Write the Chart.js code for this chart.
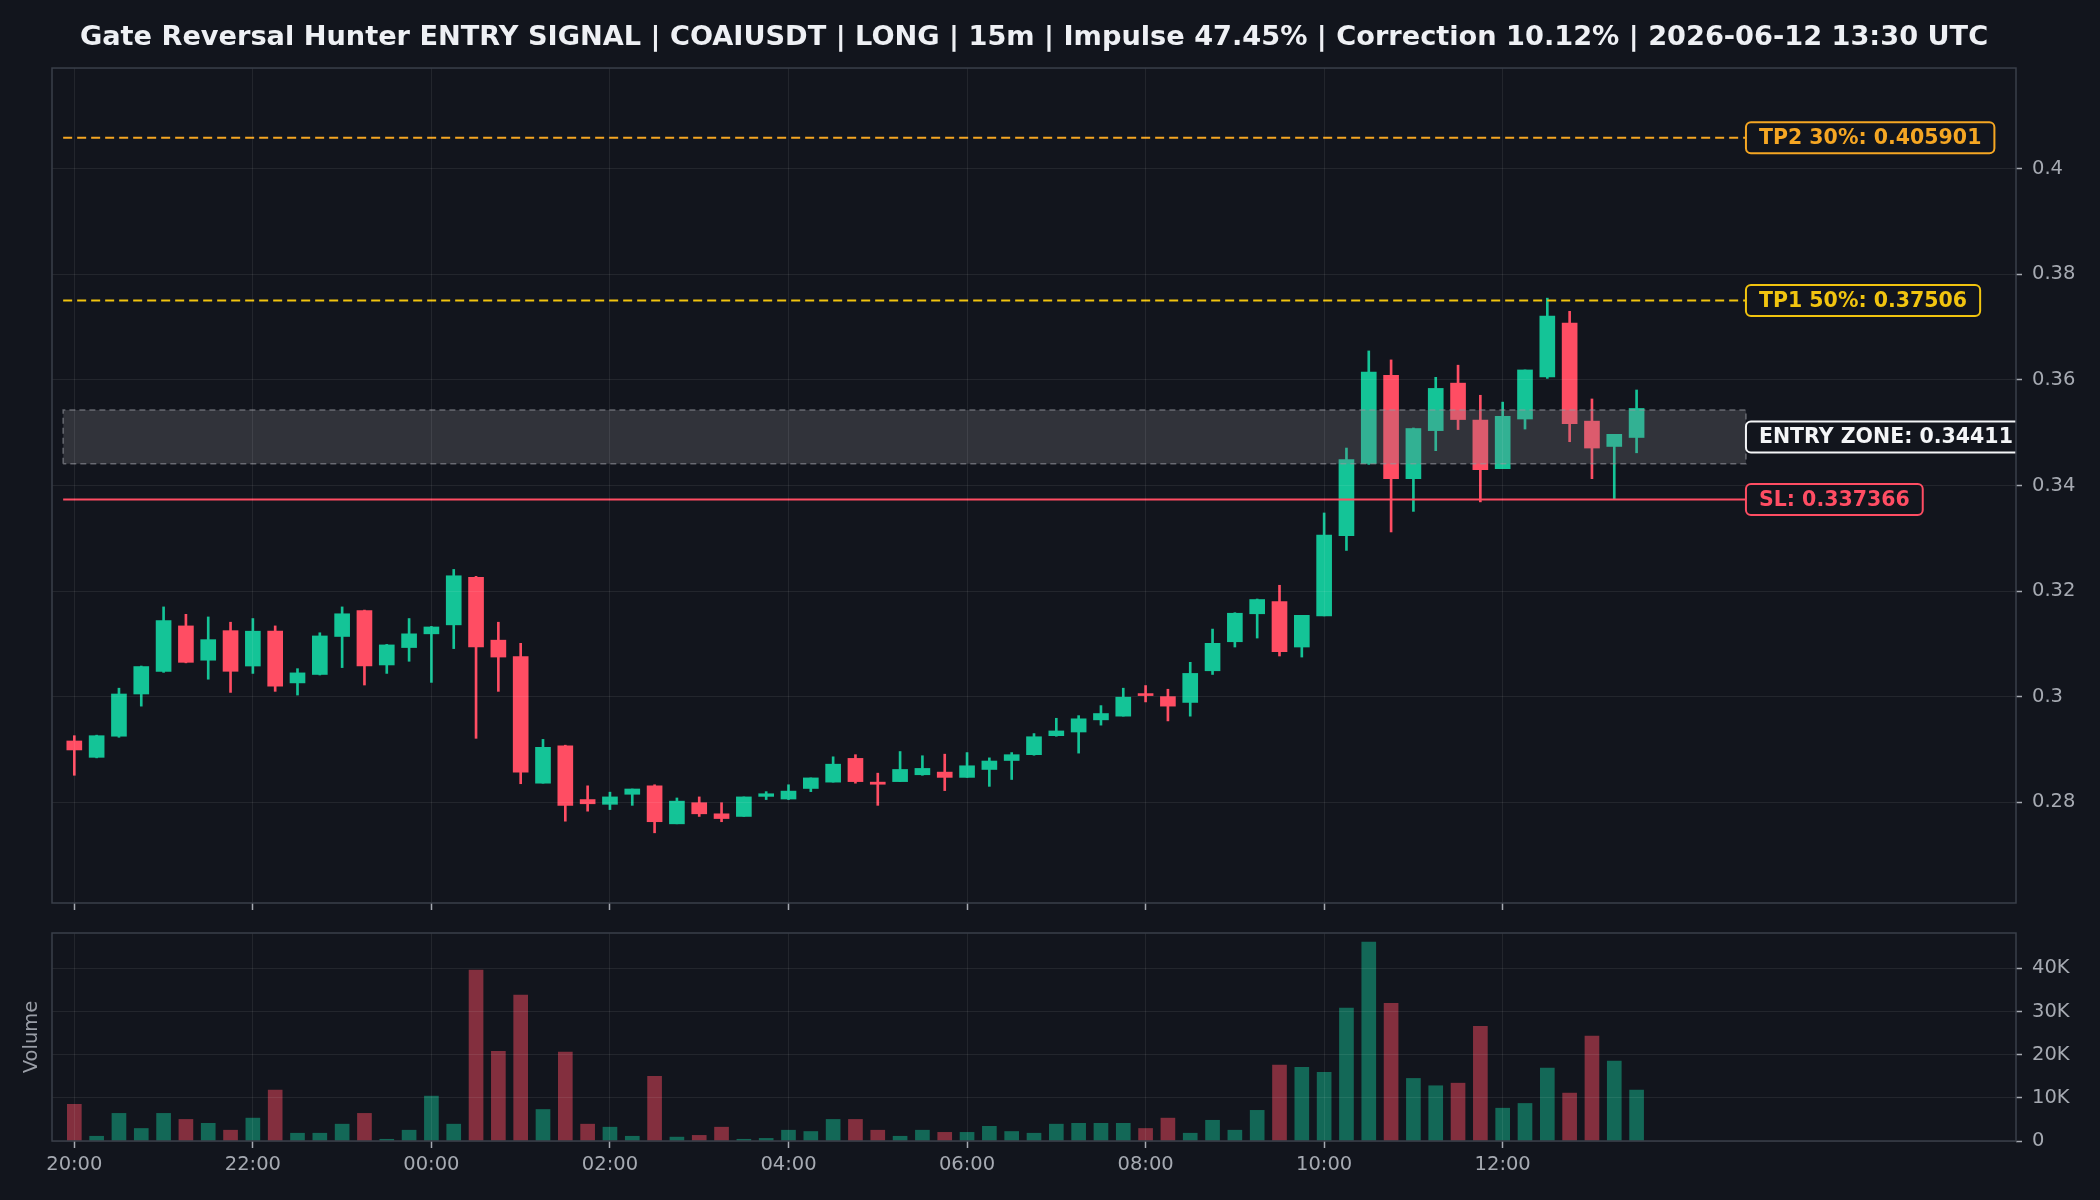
<!DOCTYPE html>
<html><head><meta charset="utf-8">
<script src="https://cdn.jsdelivr.net/npm/chart.js@4.4.1/dist/chart.umd.min.js"></script>
<style>
html,body{margin:0;padding:0;background:#12151d;}
#wrap{position:relative;width:2100px;height:1200px;background:#12151d;overflow:hidden;}
#c1{position:absolute;left:0;top:0;}
#c2{position:absolute;left:0;top:920px;}
</style></head><body>
<div id="wrap"><canvas id="c1" width="2100" height="920"></canvas><canvas id="c2" width="2100" height="280"></canvas></div>
<script>
// ---------------- DATA ----------------
const chartTitle = 'Gate Reversal Hunter ENTRY SIGNAL | COAIUSDT | LONG | 15m | Impulse 47.45% | Correction 10.12% | 2026-06-12 13:30 UTC';
const candleTimes = ['20:00','20:15','20:30','20:45','21:00','21:15','21:30','21:45','22:00','22:15','22:30','22:45','23:00','23:15','23:30','23:45','00:00','00:15','00:30','00:45','01:00','01:15','01:30','01:45','02:00','02:15','02:30','02:45','03:00','03:15','03:30','03:45','04:00','04:15','04:30','04:45','05:00','05:15','05:30','05:45','06:00','06:15','06:30','06:45','07:00','07:15','07:30','07:45','08:00','08:15','08:30','08:45','09:00','09:15','09:30','09:45','10:00','10:15','10:30','10:45','11:00','11:15','11:30','11:45','12:00','12:15','12:30','12:45','13:00','13:15','13:30'];
const openP = [0.2916,0.2885,0.2925,0.3005,0.3048,0.3134,0.3069,0.3125,0.3058,0.3124,
 0.3026,0.3042,0.3114,0.3163,0.3060,0.3093,0.3119,0.3136,0.3226,0.3107,
 0.3076,0.2836,0.2907,0.2805,0.2796,0.2815,0.2831,0.2759,0.2799,0.2778,
 0.2773,0.2811,0.2806,0.2826,0.2838,0.2883,0.2838,0.2839,0.2852,0.2857,
 0.2847,0.2862,0.2879,0.2890,0.2926,0.2933,0.2956,0.2963,0.3004,0.3000,
 0.2989,0.3049,0.3104,0.3157,0.3180,0.3094,0.3153,0.3305,0.3442,0.3609,
 0.3413,0.3504,0.3594,0.3524,0.3432,0.3526,0.3606,0.3708,0.3522,0.3474,
 0.3491];
const highP = [0.2926,0.2927,0.3016,0.3058,0.3170,0.3156,0.3151,0.3141,0.3148,0.3134,
 0.3053,0.3121,0.3170,0.3164,0.3099,0.3148,0.3133,0.3241,0.3228,0.3141,
 0.3101,0.2919,0.2908,0.2831,0.2819,0.2825,0.2833,0.2808,0.2810,0.2799,
 0.2810,0.2820,0.2833,0.2846,0.2886,0.2890,0.2855,0.2896,0.2888,0.2891,
 0.2894,0.2884,0.2894,0.2930,0.2959,0.2964,0.2983,0.3016,0.3021,0.3014,
 0.3065,0.3128,0.3159,0.3185,0.3211,0.3154,0.3348,0.3471,0.3655,0.3638,
 0.3509,0.3605,0.3628,0.3571,0.3558,0.3619,0.3755,0.3730,0.3564,0.3497,
 0.3581];
const lowP = [0.2851,0.2884,0.2923,0.2982,0.3046,0.3064,0.3033,0.3008,0.3044,0.3010,
 0.3003,0.3041,0.3055,0.3022,0.3044,0.3067,0.3027,0.3091,0.2921,0.3010,
 0.2835,0.2836,0.2764,0.2783,0.2786,0.2794,0.2742,0.2759,0.2773,0.2763,
 0.2773,0.2805,0.2805,0.2820,0.2838,0.2836,0.2794,0.2839,0.2851,0.2822,
 0.2847,0.2830,0.2843,0.2889,0.2925,0.2893,0.2946,0.2963,0.2990,0.2954,
 0.2963,0.3042,0.3094,0.3111,0.3077,0.3075,0.3153,0.3277,0.3440,0.3312,
 0.3351,0.3466,0.3506,0.3369,0.3432,0.3507,0.3603,0.3483,0.3413,0.3375,
 0.3462];
const closeP = [0.2899,0.2926,0.3005,0.3057,0.3144,0.3065,0.3108,0.3048,0.3124,0.3020,
 0.3045,0.3115,0.3157,0.3058,0.3098,0.3119,0.3132,0.3229,0.3094,0.3075,
 0.2857,0.2904,0.2794,0.2797,0.2810,0.2825,0.2763,0.2802,0.2778,0.2769,
 0.2810,0.2816,0.2821,0.2846,0.2872,0.2839,0.2834,0.2862,0.2864,0.2847,
 0.2869,0.2878,0.2890,0.2924,0.2935,0.2958,0.2968,0.2999,0.3002,0.2982,
 0.3044,0.3101,0.3158,0.3184,0.3085,0.3154,0.3306,0.3449,0.3615,0.3413,
 0.3508,0.3584,0.3525,0.3430,0.3531,0.3619,0.3721,0.3517,0.3471,0.3497,
 0.3546];
const volumes = [8500,1100,6400,2900,6400,5000,4100,2500,5300,11800,
 1800,1800,3900,6400,400,2500,10400,3900,39600,20800,
 33800,7300,20600,3900,3200,1100,15000,900,1300,3200,
 400,600,2500,2200,5000,5000,2500,1100,2500,2000,
 2000,3400,2200,1800,3900,4100,4100,4100,2900,5300,
 1800,4800,2500,7100,17600,17100,15900,30800,46100,31900,
 14500,12800,13400,26600,7600,8700,16900,11100,24300,18500,
 11800];
const levelNames = ['TP2 30%', 'TP1 50%', 'ENTRY ZONE', 'SL'];
const levelValues = [0.405901, 0.37506, 0.34411, 0.337366];
const entryZone = [0.34411, 0.3543];
const priceTicks = [0.28, 0.30, 0.32, 0.34, 0.36, 0.38, 0.40];
const priceTickLabels = ['0.28', '0.3', '0.32', '0.34', '0.36', '0.38', '0.4'];
const volumeTicks = [0, 10000, 20000, 30000, 40000];
const volumeTickLabels = ['0', '10K', '20K', '30K', '40K'];

// ---------------- STYLE / LAYOUT ----------------
const BG = '#12151d';
const UP = '#14c497', DOWN = '#ff4d63';
const UP_V = 'rgba(20,196,151,0.48)', DOWN_V = 'rgba(255,77,99,0.48)';
const ORANGE = '#f5a623', YELLOW = '#f1c40f', WHITE = '#f4f5f7', RED = '#ff4d63';
const levelColors = [ORANGE, YELLOW, WHITE, RED];
const GRID = 'rgba(255,255,255,0.075)';
const SPINE = '#3a3f4a';
const TICKC = '#a6aab2';
const FONT = 'DejaVu Sans';
const X_MIN = -1, X_MAX = 87;
const LINE_START = -0.5, LINE_END = 74.9;
const PRICE_MIN = 0.2609, PRICE_MAX = 0.4191;
const VOL_MAX = 48200;

Chart.defaults.font.family = FONT;
Chart.defaults.color = TICKC;

const idx = candleTimes.map((_, i) => i);
const isUp = idx.map(i => closeP[i] >= openP[i]);
const candleColors = idx.map(i => isUp[i] ? UP : DOWN);
const volColors = idx.map(i => isUp[i] ? UP_V : DOWN_V);
const xTickIdx = idx.filter(i => candleTimes[i].endsWith(':00') && parseInt(candleTimes[i], 10) % 2 === 0);

function levelLine(v) { return [{x: LINE_START, y: v}, {x: LINE_END, y: v}]; }
function noPad(s) { s.paddingTop = 0; s.paddingBottom = 0; }

const framePlugin = {
  id: 'frame',
  afterDraw(chart) {
    const {ctx, chartArea: a} = chart;
    ctx.save();
    ctx.strokeStyle = SPINE; ctx.lineWidth = 1.5;
    ctx.strokeRect(a.left, a.top, a.right - a.left, a.bottom - a.top);
    ctx.restore();
  }
};

const levelLabelPlugin = {
  id: 'levelLabels',
  afterDraw(chart) {
    const {ctx, chartArea: a, scales} = chart;
    const xs = scales.x, ys = scales.y;
    ctx.save();
    ctx.beginPath(); ctx.rect(a.left, a.top, a.right - a.left, a.bottom - a.top); ctx.clip();
    ctx.font = 'bold 20.5px "' + FONT + '"';
    ctx.textBaseline = 'middle';
    levelNames.forEach((name, k) => {
      const text = name + ': ' + levelValues[k];
      const val = name === 'ENTRY ZONE' ? (entryZone[0] + entryZone[1]) / 2 : levelValues[k];
      const cy = ys.getPixelForValue(val);
      const left = xs.getPixelForValue(LINE_END);
      const padX = 13, h = 31;
      const w = ctx.measureText(text).width + padX * 2;
      ctx.beginPath();
      if (ctx.roundRect) ctx.roundRect(left, cy - h / 2, w, h, 5); else ctx.rect(left, cy - h / 2, w, h);
      ctx.fillStyle = BG; ctx.fill();
      ctx.lineWidth = 2; ctx.strokeStyle = levelColors[k]; ctx.stroke();
      ctx.fillStyle = levelColors[k];
      ctx.fillText(text, left + padX, cy + 1);
    });
    ctx.restore();
  }
};

// ---------------- MAIN CHART ----------------
new Chart(document.getElementById('c1'), {
  type: 'bar',
  data: {
    datasets: [
      {type: 'line', label: 'TP2', data: levelLine(levelValues[0]), borderColor: ORANGE, borderWidth: 2, borderDash: [9, 5], pointRadius: 0, fill: false, order: 0},
      {type: 'line', label: 'TP1', data: levelLine(levelValues[1]), borderColor: YELLOW, borderWidth: 2, borderDash: [9, 5], pointRadius: 0, fill: false, order: 0},
      {type: 'line', label: 'SL', data: levelLine(levelValues[3]), borderColor: RED, borderWidth: 2, pointRadius: 0, fill: false, order: 0},
      {type: 'line', label: 'zoneOutline', data: [
          {x: LINE_START, y: entryZone[0]}, {x: LINE_START, y: entryZone[1]},
          {x: LINE_END, y: entryZone[1]}, {x: LINE_END, y: entryZone[0]}, {x: LINE_START, y: entryZone[0]}],
        borderColor: 'rgba(150,152,158,0.6)', borderWidth: 1.5, borderDash: [6, 4], pointRadius: 0, fill: false, tension: 0, order: 1},
      {type: 'line', label: 'zoneFill', data: levelLine(entryZone[1]), borderWidth: 0, borderColor: 'rgba(0,0,0,0)',
        backgroundColor: 'rgba(128,130,136,0.28)', fill: {value: entryZone[0]}, pointRadius: 0, order: 1},
      {type: 'bar', label: 'body', data: idx.map(i => ({x: i, y: [openP[i], closeP[i]]})), backgroundColor: candleColors,
        barThickness: 15, maxBarThickness: 15, barPercentage: 1, categoryPercentage: 1, grouped: false, minBarLength: 2, borderWidth: 0, order: 2},
      {type: 'bar', label: 'wick', data: idx.map(i => ({x: i, y: [lowP[i], highP[i]]})), backgroundColor: candleColors,
        barThickness: 2, maxBarThickness: 2, barPercentage: 1, categoryPercentage: 1, grouped: false, borderWidth: 0, order: 3}
    ]
  },
  options: {
    responsive: false, animation: false, devicePixelRatio: 1,
    layout: {padding: {left: 52, right: 0, top: 0, bottom: 0}},
    plugins: {
      legend: {display: false}, tooltip: {enabled: false},
      title: {display: true, text: chartTitle, color: '#eef0f4', fullSize: false,
        font: {family: FONT, size: 27.2, weight: 'bold', lineHeight: 1.2}, padding: {top: 22, bottom: 13.4}}
    },
    scales: {
      x: {type: 'linear', min: X_MIN, max: X_MAX, offset: false,
        afterBuildTicks: s => { s.ticks = xTickIdx.map(v => ({value: v})); },
        ticks: {display: false},
        grid: {color: GRID, offset: false, z: 1, drawTicks: true, tickLength: 7, tickColor: TICKC, tickWidth: 1.5},
        border: {display: false},
        afterFit: s => { s.height = 17; }
      },
      y: {type: 'linear', position: 'right', min: PRICE_MIN, max: PRICE_MAX,
        afterBuildTicks: s => { s.ticks = priceTicks.map(v => ({value: v})); },
        ticks: {color: TICKC, font: {family: FONT, size: 19.5}, padding: 10, callback: (v, i) => priceTickLabels[i]},
        grid: {color: GRID, z: 1, tickLength: 6, tickColor: TICKC, tickWidth: 1.5},
        border: {display: false},
        afterFit: s => { s.width = 84; noPad(s); }
      }
    }
  },
  plugins: [levelLabelPlugin, framePlugin]
});

// ---------------- VOLUME CHART ----------------
new Chart(document.getElementById('c2'), {
  type: 'bar',
  data: {
    datasets: [{label: 'Volume', data: idx.map(i => ({x: i, y: volumes[i]})), backgroundColor: volColors,
      barThickness: 14, maxBarThickness: 14, barPercentage: 1, categoryPercentage: 1, grouped: false, borderWidth: 0, yAxisID: 'y'}]
  },
  options: {
    responsive: false, animation: false, devicePixelRatio: 1,
    layout: {padding: {left: 0, right: 0, top: 13, bottom: 0}},
    plugins: {legend: {display: false}, tooltip: {enabled: false}},
    scales: {
      x: {type: 'linear', min: X_MIN, max: X_MAX, offset: false,
        afterBuildTicks: s => { s.ticks = xTickIdx.map(v => ({value: v})); },
        ticks: {color: TICKC, font: {family: FONT, size: 19.5}, padding: 5, maxRotation: 0, autoSkip: false, callback: v => candleTimes[v]},
        grid: {color: GRID, offset: false, z: 1, tickLength: 7, tickColor: TICKC, tickWidth: 1.5},
        border: {display: false},
        afterFit: s => { s.height = 59; }
      },
      y: {type: 'linear', position: 'right', min: 0, max: VOL_MAX,
        afterBuildTicks: s => { s.ticks = volumeTicks.map(v => ({value: v})); },
        ticks: {color: TICKC, font: {family: FONT, size: 19.5}, padding: 10, callback: (v, i) => volumeTickLabels[i]},
        grid: {color: GRID, z: 1, tickLength: 6, tickColor: TICKC, tickWidth: 1.5},
        border: {display: false},
        afterFit: s => { s.width = 84; noPad(s); }
      },
      yl: {type: 'linear', axis: 'y', position: 'left', min: 0, max: 1,
        ticks: {display: false}, grid: {display: false, drawTicks: false}, border: {display: false},
        title: {display: true, text: 'Volume', color: '#9a9ea7', font: {family: FONT, size: 19.5}, padding: {top: 20, bottom: 0}},
        afterFit: s => { s.width = 52; noPad(s); }
      }
    }
  },
  plugins: [framePlugin]
});
</script>
</body></html>
